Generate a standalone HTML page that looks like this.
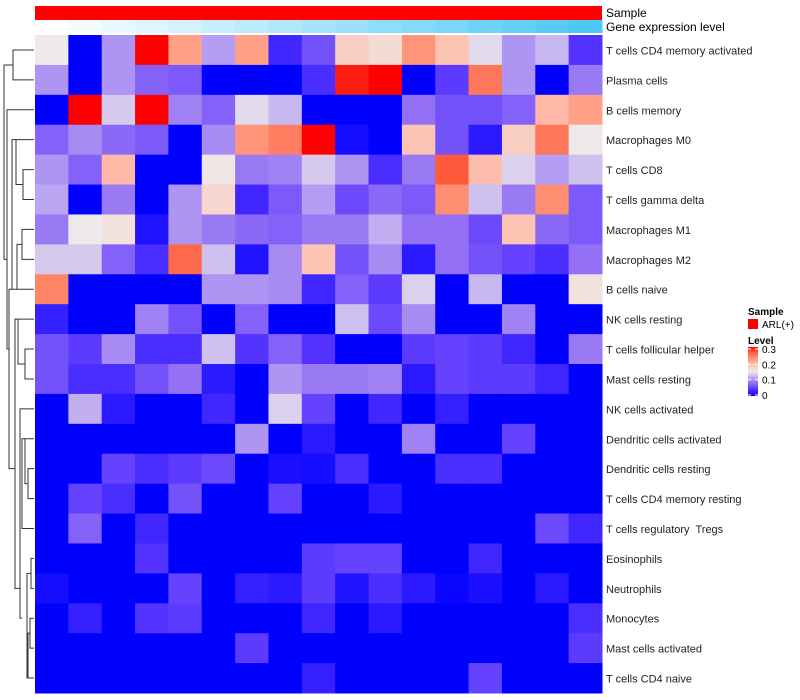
<!DOCTYPE html>
<html><head><meta charset="utf-8"><style>
body{margin:0;background:#fff;font-family:"Liberation Sans",sans-serif;}
svg{display:block}
svg text{white-space:pre}
</style></head><body>
<svg id="chart" width="800" height="700" xmlns="http://www.w3.org/2000/svg"></svg>
<script>
const rowLabels=["T cells CD4 memory activated","Plasma cells","B cells memory","Macrophages M0","T cells CD8","T cells gamma delta","Macrophages M1","Macrophages M2","B cells naive","NK cells resting","T cells follicular helper","Mast cells resting","NK cells activated","Dendritic cells activated","Dendritic cells resting","T cells CD4 memory resting","T cells regulatory  Tregs","Eosinophils","Neutrophils","Monocytes","Mast cells activated","T cells CD4 naive"];
const values=[
[0.15,0,0.1,0.3,0.22,0.105,0.22,0.03,0.06,0.18,0.165,0.23,0.19,0.14,0.1,0.12,0.04],
[0.1,0,0.1,0.07,0.065,0,0,0,0.035,0.29,0.3,0,0.045,0.25,0.1,0,0.085],
[0,0.3,0.13,0.3,0.09,0.07,0.14,0.12,0,0,0,0.08,0.06,0.06,0.07,0.2,0.22],
[0.07,0.095,0.075,0.065,0,0.095,0.23,0.245,0.3,0.01,0,0.19,0.06,0.02,0.18,0.25,0.15],
[0.1,0.07,0.2,0,0,0.155,0.085,0.09,0.13,0.1,0.035,0.085,0.27,0.195,0.135,0.105,0.125],
[0.11,0,0.085,0,0.1,0.17,0.03,0.065,0.105,0.055,0.075,0.065,0.235,0.125,0.085,0.235,0.065],
[0.085,0.15,0.16,0.015,0.1,0.085,0.075,0.07,0.085,0.085,0.115,0.08,0.08,0.055,0.19,0.075,0.065],
[0.13,0.13,0.07,0.035,0.26,0.125,0.015,0.095,0.19,0.06,0.095,0.02,0.08,0.06,0.05,0.035,0.08],
[0.24,0,0,0,0,0.1,0.1,0.095,0.03,0.07,0.045,0.135,0,0.12,0,0,0.16],
[0.025,0,0,0.09,0.06,0,0.07,0,0,0.125,0.055,0.095,0,0,0.09,0,0],
[0.06,0.045,0.095,0.035,0.035,0.125,0.04,0.07,0.04,0,0,0.045,0.05,0.045,0.03,0,0.085],
[0.06,0.035,0.035,0.06,0.08,0.02,0,0.1,0.085,0.085,0.09,0.02,0.05,0.045,0.045,0.03,0],
[0,0.115,0.02,0,0,0.03,0,0.135,0.05,0,0.03,0,0.025,0,0,0,0],
[0,0,0,0,0,0,0.1,0,0.02,0,0,0.09,0,0,0.05,0,0],
[0,0,0.05,0.035,0.045,0.055,0,0.012,0.01,0.035,0,0,0.035,0.035,0,0,0],
[0,0.05,0.035,0,0.06,0,0,0.05,0,0,0.02,0,0,0,0,0,0],
[0,0.07,0,0.03,0,0,0,0,0,0,0,0,0,0,0,0.055,0.03],
[0,0,0,0.04,0,0,0,0,0.045,0.05,0.05,0,0,0.03,0,0,0],
[0.01,0,0,0,0.05,0,0.025,0.02,0.045,0.015,0.035,0.02,0.005,0.012,0,0.02,0],
[0,0.025,0,0.04,0.045,0,0,0,0.03,0,0.02,0,0,0,0,0,0.035],
[0,0,0,0,0,0,0.045,0,0,0,0,0,0,0,0,0,0.045],
[0,0,0,0,0,0,0,0,0.025,0,0,0,0,0.05,0,0,0]
];
const geneLevel=[0,1,2,3,4,5,6,7,8,9,10,11,12,13,14,15,16];
const legendTicks=[0,0.1,0.2,0.3];

const NS="http://www.w3.org/2000/svg";
const svg=document.getElementById('chart');
function mk(t,a,p){const e=document.createElementNS(NS,t);for(const k in a)e.setAttribute(k,a[k]);(p||svg).appendChild(e);return e;}
const X0=35,X1=602,Y0=35,Y1=693;
const nC=values[0].length,nR=values.length;
const cw=(X1-X0)/nC,rh=(Y1-Y0)/nR;
const xPos=c=>X0+c*cw, yPos=r=>Y0+r*rh;
const stops=[[0,[0,0,255]],[0.04,[85,51,255]],[0.08,[147,112,245]],[0.12,[200,184,240]],[0.15,[238,234,234]],[0.19,[253,196,180]],[0.23,[255,148,120]],[0.27,[255,90,60]],[0.3,[255,0,0]]];
function color(v){v=Math.max(0,Math.min(0.3,v));for(let i=1;i<stops.length;i++){if(v<=stops[i][0]){const a=stops[i-1],b=stops[i];const t=(v-a[0])/(b[0]-a[0]);const c=a[1].map((x,j)=>Math.round(x+(b[1][j]-x)*t));return `rgb(${c})`;}}return 'rgb(255,0,0)';}
const sb=mk('rect',{x:X0,y:6,width:X1-X0,height:14,fill:'#FF0000'});


const gmax=geneLevel[geneLevel.length-1];
geneLevel.forEach((g,c)=>{const t=g/gmax;const r=Math.round(255+(77-255)*t),gg=Math.round(255+(201-255)*t),b=Math.round(255+(246-255)*t);
const e=mk('rect',{x:xPos(c),y:20,width:cw+0.5,height:13,fill:`rgb(${r},${gg},${b})`});

});
const t1=mk('text',{x:606,y:17,'font-size':12,fill:'#000'});t1.textContent='Sample';


const t2=mk('text',{x:606,y:31,'font-size':12,fill:'#000'});t2.textContent='Gene expression level';


values.forEach((row,r)=>row.forEach((v,c)=>{const e=mk('rect',{x:xPos(c),y:yPos(r),width:cw+0.5,height:rh+0.5,fill:color(v)});

}));
rowLabels.forEach((l,r)=>{const e=mk('text',{x:606,y:yPos(r)+rh/2+4.5,'font-size':11,fill:'#222'});e.textContent=l;

});
const g=mk('g',{stroke:'#333','stroke-width':1,fill:'none'});


const cy=r=>yPos(r)+rh/2;
function link(ya,xa,yb,xb,xm){mk('path',{d:`M${xa},${ya}H${xm}V${yb}H${xb}`},g);}
link(cy(0),34,cy(1),34,13);
link(cy(4),34,cy(5),34,23);
link(cy(6),34,cy(7),34,22);
link((cy(4)+cy(5))/2,23,cy(3),34,16);
link(cy(8),34,(cy(6)+cy(7))/2,22,17);
link(cy(10),34,cy(11),34,25);
link(cy(9),34,(cy(10)+cy(11))/2,25,18);
link(cy(14),34,cy(15),34,28);
link(cy(13),34,(cy(14)+cy(15))/2,28,25);
link(cy(16),34,cy(13),25,22);
link(cy(17),34,cy(18),34,31);
link(cy(19),34,cy(20),34,30);
link(cy(21),34,(cy(19)+cy(20))/2,30,28);
link((cy(17)+cy(18))/2,31,cy(21),28,27);
link(cy(12),34,cy(19),22,20);
link(cy(9),18,cy(18),20,15);
link(cy(3),16,cy(8),17,12);
link(cy(8),12,cy(14),15,9);
link(cy(2),34,cy(10),9,7);
link(cy(0)+15,13,cy(7),7,4);
const ls=mk('text',{x:748,y:315,'font-size':10,'font-weight':'bold'});ls.textContent='Sample';


const lr=mk('rect',{x:748,y:319,width:10,height:10,fill:'#FF0000'});


const lt=mk('text',{x:762,y:328,'font-size':10});lt.textContent='ARL(+)';


const lv=mk('text',{x:748,y:344,'font-size':10,'font-weight':'bold'});lv.textContent='Level';


const defs=mk('defs',{});const lg=mk('linearGradient',{id:'lg',x1:0,y1:1,x2:0,y2:0},defs);
stops.forEach(s=>mk('stop',{offset:s[0]/0.3,'stop-color':color(s[0])},lg));
const bar=mk('rect',{x:748,y:347,width:10,height:49,fill:'url(#lg)'});


legendTicks.forEach(t=>{const y=395-t/0.3*46;
mk('line',{x1:748,x2:751,y1:y,y2:y,stroke:'#fff'});mk('line',{x1:755,x2:758,y1:y,y2:y,stroke:'#fff'});
const e=mk('text',{x:762,y:y+4,'font-size':10});e.textContent=String(t);

});
</script>
</body></html>
